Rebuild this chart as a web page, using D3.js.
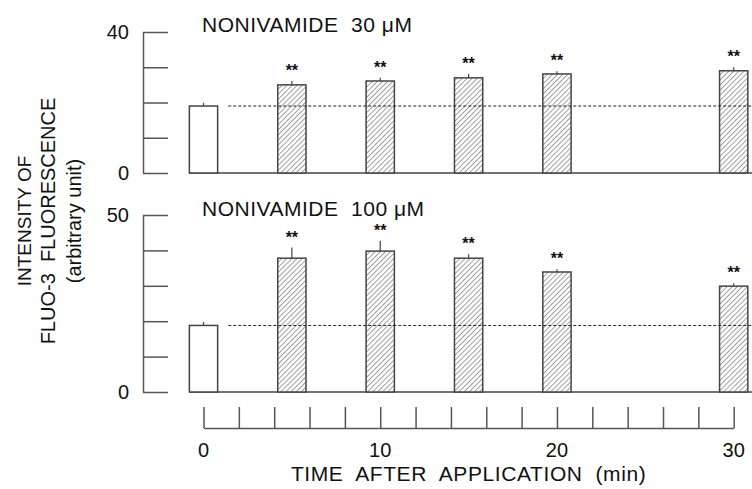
<!DOCTYPE html>
<html>
<head>
<meta charset="utf-8">
<script src="https://cdn.jsdelivr.net/npm/d3@7"></script>
<style>
  body { margin: 0; background: #fff; }
  text { font-family: "Liberation Sans", Arial, sans-serif; fill: #111; white-space: pre; }
</style>
</head>
<body>
<svg width="752" height="489"></svg>
<script>
// values
const times = [0, 5, 10, 15, 20, 30];
const mean30 = [19.0, 25.0, 26.1, 27.0, 28.1, 29.0];
const err30 = [0.9, 1.1, 0.9, 1.1, 0.8, 1.0];
const mean100 = [18.8, 37.8, 39.8, 37.8, 33.9, 29.9];
const err100 = [1.0, 3.0, 2.9, 1.1, 0.8, 0.8];
const signif = ["", "**", "**", "**", "**", "**"];
const yTicks30 = [0, 10, 20, 30, 40];
const yTicks100 = [0, 10, 20, 30, 40, 50];
const xTicks = d3.range(0, 31, 2);
const xLabels = [0, 10, 20, 30];

const svg = d3.select("svg");

const x = d3.scaleLinear().domain([0, 30]).range([203.5, 733.7]);
const barW = x(1.6) - x(0);

// diagonal hatching
const pat = svg.append("defs").append("pattern")
  .attr("id", "hatch")
  .attr("patternUnits", "userSpaceOnUse")
  .attr("width", 3.6).attr("height", 3.6)
  .attr("patternTransform", "rotate(45)");
pat.append("rect").attr("width", 3.6).attr("height", 3.6).attr("fill", "#fff");
pat.append("line")
  .attr("x1", 0).attr("y1", 0).attr("x2", 0).attr("y2", 3.6)
  .attr("stroke", "#555").attr("stroke-width", 1.1);

const panels = [
  { title: "NONIVAMIDE  30 μM", means: mean30, errs: err30, ticks: yTicks30, max: 40, range: [173, 32], titleY: 31.5 },
  { title: "NONIVAMIDE  100 μM", means: mean100, errs: err100, ticks: yTicks100, max: 50, range: [392, 215], titleY: 216 }
];

panels.forEach(p => {
  const y = d3.scaleLinear().domain([0, p.max]).range(p.range);
  const g = svg.append("g");

  const ax = g.append("g")
    .attr("transform", "translate(143,0)")
    .call(d3.axisRight(y).tickValues(p.ticks).tickSize(25).tickSizeOuter(0).tickFormat(""));
  ax.select(".domain").attr("stroke", "#555").attr("stroke-width", 1.5);
  ax.selectAll(".tick line").attr("stroke", "#555").attr("stroke-width", 1.5);

  g.selectAll("text.ylab")
    .data([0, p.max])
    .enter()
    .append("text")
    .attr("class", "ylab")
    .attr("x", 129)
    .attr("y", d => y(d) + 7)
    .attr("text-anchor", "end")
    .style("font-size", "20px")
    .text(d => d);

  // baseline under bars
  g.append("line")
    .attr("x1", x(0) - barW / 2).attr("x2", 752)
    .attr("y1", y(0)).attr("y2", y(0))
    .attr("stroke", "#444").attr("stroke-width", 1.5);

  const rows = times.map((t, i) => ({ t: t, m: p.means[i], e: p.errs[i], s: signif[i] }));

  g.selectAll("line.err")
    .data(rows)
    .enter()
    .append("line")
    .attr("class", "err")
    .attr("x1", d => x(d.t)).attr("x2", d => x(d.t))
    .attr("y1", d => y(d.m)).attr("y2", d => y(d.m + d.e))
    .attr("stroke", "#444").attr("stroke-width", 1.2);

  g.selectAll("rect.bar")
    .data(rows)
    .enter()
    .append("rect")
    .attr("class", "bar")
    .attr("x", d => x(d.t) - barW / 2)
    .attr("width", barW)
    .attr("y", d => y(d.m))
    .attr("height", d => y(0) - y(d.m))
    .attr("fill", (d, i) => i === 0 ? "#fff" : "url(#hatch)")
    .attr("stroke", "#444")
    .attr("stroke-width", 1.5);

  // control level
  g.append("line")
    .attr("x1", x(1.4)).attr("x2", 752)
    .attr("y1", y(p.means[0])).attr("y2", y(p.means[0]))
    .attr("stroke", "#222").attr("stroke-width", 1)
    .attr("stroke-dasharray", "3,2");

  g.selectAll("text.sig")
    .data(rows.filter(d => d.s))
    .enter()
    .append("text")
    .attr("class", "sig")
    .attr("x", d => x(d.t))
    .attr("y", d => y(d.m + d.e) - 5)
    .attr("text-anchor", "middle")
    .style("font-size", "16px")
    .style("font-weight", "bold")
    .text(d => d.s);

  g.append("text")
    .attr("x", 202)
    .attr("y", p.titleY)
    .style("font-size", "21px")
    .style("letter-spacing", "0.5px")
    .text(p.title);
});

// time axis
const xa = svg.append("g")
  .attr("transform", "translate(0,428)")
  .call(d3.axisTop(x).tickValues(xTicks).tickSize(21).tickSizeOuter(0).tickFormat(""));
xa.select(".domain").attr("stroke", "#555").attr("stroke-width", 1.5);
xa.selectAll(".tick line").attr("stroke", "#555").attr("stroke-width", 1.5);

svg.selectAll("text.xlab")
  .data(xLabels)
  .enter()
  .append("text")
  .attr("class", "xlab")
  .attr("x", d => x(d))
  .attr("y", 457)
  .attr("text-anchor", "middle")
  .style("font-size", "20px")
  .text(d => d);

svg.append("text")
  .attr("x", x(15))
  .attr("y", 481)
  .attr("text-anchor", "middle")
  .style("font-size", "21px")
  .style("letter-spacing", "0.6px")
  .text("TIME  AFTER  APPLICATION  (min)");

// y title, three rotated lines
const yTitle = [
  { s: "INTENSITY OF", x: 31, size: 19 },
  { s: "FLUO-3  FLUORESCENCE", x: 55, size: 20 },
  { s: "(arbitrary unit)", x: 81, size: 20 }
];
svg.selectAll("text.ytitle")
  .data(yTitle)
  .enter()
  .append("text")
  .attr("class", "ytitle")
  .attr("transform", d => `translate(${d.x},221) rotate(-90)`)
  .attr("text-anchor", "middle")
  .style("font-size", d => d.size + "px")
  .text(d => d.s);
</script>
</body>
</html>
